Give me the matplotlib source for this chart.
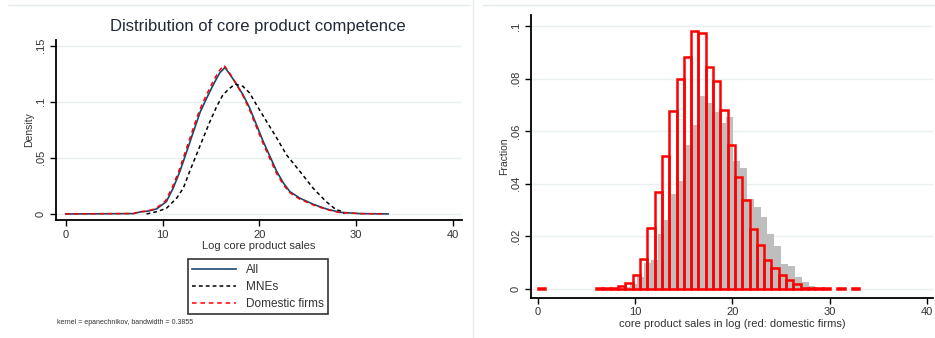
import numpy as np
import matplotlib.pyplot as plt
from matplotlib.lines import Line2D

plt.rcParams['font.family'] = ['Liberation Sans', 'DejaVu Sans']

# ---- left panel: kernel densities ----
all_x = [0, 7.0, 7.7, 8.5, 9.4, 10.4, 11.1, 11.8, 12.5, 13.2, 13.9, 14.55, 15.23, 15.9,
         16.45, 16.95, 17.65, 18.33, 19.0, 19.7, 20.4, 21.1, 21.8, 22.5, 23.15, 24.2,
         25.55, 26.9, 28.3, 30.4, 33.3]
all_d = [0, 0.0003, 0.0018, 0.0025, 0.0045, 0.011, 0.023, 0.038, 0.0556, 0.0735, 0.091,
         0.103, 0.115, 0.1256, 0.1305, 0.1245, 0.1155, 0.106, 0.0944, 0.0795, 0.0646,
         0.0512, 0.0378, 0.0274, 0.0199, 0.014, 0.0087, 0.0045, 0.0015, 0.0003, 0]

dom_x = [0, 7.0, 7.6, 8.4, 9.3, 10.3, 11.0, 11.7, 12.4, 13.1, 13.8, 14.45, 15.13, 15.8,
         16.35, 16.9, 17.6, 18.3, 18.95, 19.65, 20.35, 21.05, 21.75, 22.45, 23.1, 24.15,
         25.5, 26.85, 28.25, 30.4, 33.1]
dom_d = [0, 0.0004, 0.0019, 0.0026, 0.0047, 0.0115, 0.0235, 0.0385, 0.0565, 0.0745, 0.092,
         0.1045, 0.1165, 0.127, 0.1325, 0.126, 0.116, 0.1055, 0.0935, 0.0785, 0.0635,
         0.05, 0.0365, 0.0265, 0.0192, 0.0133, 0.0082, 0.0042, 0.0013, 0.0003, 0]

mne_x = [8.35, 9.4, 10.4, 11.45, 12.15, 12.8, 13.5, 14.2, 14.9, 15.6, 16.25, 16.95, 17.5,
         18.3, 19.0, 19.7, 20.75, 21.8, 22.8, 24.2, 25.55, 26.9, 27.95, 28.3, 28.8]
mne_d = [0, 0.002, 0.005, 0.014, 0.023, 0.0378, 0.0527, 0.0676, 0.0824, 0.0958, 0.1063,
         0.112, 0.1158, 0.1137, 0.1078, 0.0973, 0.0824, 0.0676, 0.0527, 0.0378, 0.023,
         0.011, 0.0036, 0.003, 0.0003]

# ---- right panel: histograms (fraction) ----
red_start, red_width = 0.0, 0.751
red_frac = [0.0004, 0, 0, 0, 0, 0, 0, 0, 0.0003, 0.0003, 0.0003, 0.001, 0.0023, 0.0052,
            0.0113, 0.0231, 0.0369, 0.0505, 0.0678, 0.0798, 0.0881, 0.0981, 0.0975, 0.0845,
            0.0791, 0.068, 0.0547, 0.0424, 0.0338, 0.0227, 0.0166, 0.0109, 0.0078, 0.0052,
            0.0033, 0.0017, 0.0003, 0.0003, 0.0003, 0.0003, 0, 0.0003, 0, 0.0003]

gray_start, gray_width = 8.08, 0.706
gray_frac = [0.0003, 0.0005, 0.0016, 0.0046, 0.0097, 0.011, 0.021, 0.026, 0.036, 0.041,
             0.0547, 0.0623, 0.0733, 0.0708, 0.0671, 0.0632, 0.0652, 0.0486, 0.0458, 0.034,
             0.0312, 0.0274, 0.0207, 0.0162, 0.0095, 0.0085, 0.0043, 0.0027, 0.001]

W, H = 935, 338
fig = plt.figure(figsize=(W / 100, H / 100), dpi=100)
txt = '#333333'
grid_c = '#e8f0f2'


def style(ax):
    for s in ['top', 'right']:
        ax.spines[s].set_visible(False)
    for s in ['left', 'bottom']:
        ax.spines[s].set_linewidth(1.3)
    ax.tick_params(direction='out', length=4.5, width=1, colors='black', labelcolor=txt,
                   labelsize=8)
    ax.yaxis.grid(True, color=grid_c, linewidth=1)
    ax.set_axisbelow(True)


# left axes
ax1 = fig.add_axes([56 / W, 1 - 220 / H, (461.7 - 56) / W, (220 - 40) / H])
style(ax1)
ax1.plot(all_x, all_d, color='#1a476f', lw=1.2, label='All')
ax1.plot(mne_x, mne_d, color='black', lw=1.1, ls=(0, (2.5, 2)), label='MNEs')
ax1.plot(dom_x, dom_d, color='red', lw=1.1, ls=(0, (3, 2.5)), label='Domestic firms')
ax1.set_xlim(-1.0, 40.9)
ax1.set_ylim(-0.0054, 0.155)
ax1.set_xticks([0, 10, 20, 30, 40])
ax1.set_yticks([0, 0.05, 0.1, 0.15])
ax1.set_yticklabels(['0', '.05', '.1', '.15'], rotation=90, va='center')
ax1.tick_params(axis='x', pad=2.5)
ax1.tick_params(axis='y', pad=3)
ax1.set_xlabel('Log core product sales', fontsize=8, color=txt, labelpad=1)
ax1.set_ylabel('Density', fontsize=7.5, color=txt, labelpad=1)
leg = ax1.legend(loc='upper left', bbox_to_anchor=(187.7 / W, 1 - 259 / H),
                 bbox_transform=fig.transFigure, fontsize=8.5, frameon=True,
                 fancybox=False, edgecolor='black', handlelength=3.7, labelspacing=0.42,
                 borderpad=0.4, handletextpad=0.8, borderaxespad=0)
leg.get_frame().set_linewidth(1.2)
for t in leg.get_texts():
    t.set_color(txt)
fig.text(258 / W, 1 - 26.7 / H, 'Distribution of core product competence', ha='center',
         va='center', fontsize=12, color='#222a38')
fig.text(57.3 / W, 1 - 322.7 / H, 'kernel = epanechnikov, bandwidth = 0.3855',
         ha='left', va='center', fontsize=5, color=txt)

# right axes
ax2 = fig.add_axes([531 / W, 1 - 297.7 / H, (933 - 531) / W, (297.7 - 15) / H])
style(ax2)
gl = gray_start + gray_width * np.arange(len(gray_frac))
ax2.bar(gl, gray_frac, width=gray_width, align='edge', color='#bebebe', linewidth=0)
rf = np.array(red_frac)
rl = red_start + red_width * np.arange(len(rf))
m = rf > 0
ax2.bar(rl[m], rf[m], width=red_width, align='edge', fill=False, edgecolor='red',
        linewidth=1.8)
ax2.set_xlim(-0.69, 40.64)
ax2.set_ylim(-0.00343, 0.1042)
ax2.set_xticks([0, 10, 20, 30, 40])
ax2.set_yticks([0, 0.02, 0.04, 0.06, 0.08, 0.1])
ax2.set_yticklabels(['0', '.02', '.04', '.06', '.08', '.1'], rotation=90, va='center')
ax2.tick_params(axis='x', pad=2.5)
ax2.tick_params(axis='y', pad=3)
ax2.set_xlabel('core product sales in log (red: domestic firms)', fontsize=8, color=txt,
               labelpad=1)
ax2.set_ylabel('Fraction', fontsize=7.5, color=txt, labelpad=1)

# faint frames of the two pasted panels
fc = '#e4ecee'
fig.add_artist(Line2D([8 / W, 470 / W], [1 - 5 / H] * 2, color=fc, lw=1))
fig.add_artist(Line2D([483 / W, 1], [1 - 5 / H] * 2, color=fc, lw=1))
fig.add_artist(Line2D([473 / W] * 2, [0, 1], color=fc, lw=1))

fig.savefig('out.png', dpi=100)
